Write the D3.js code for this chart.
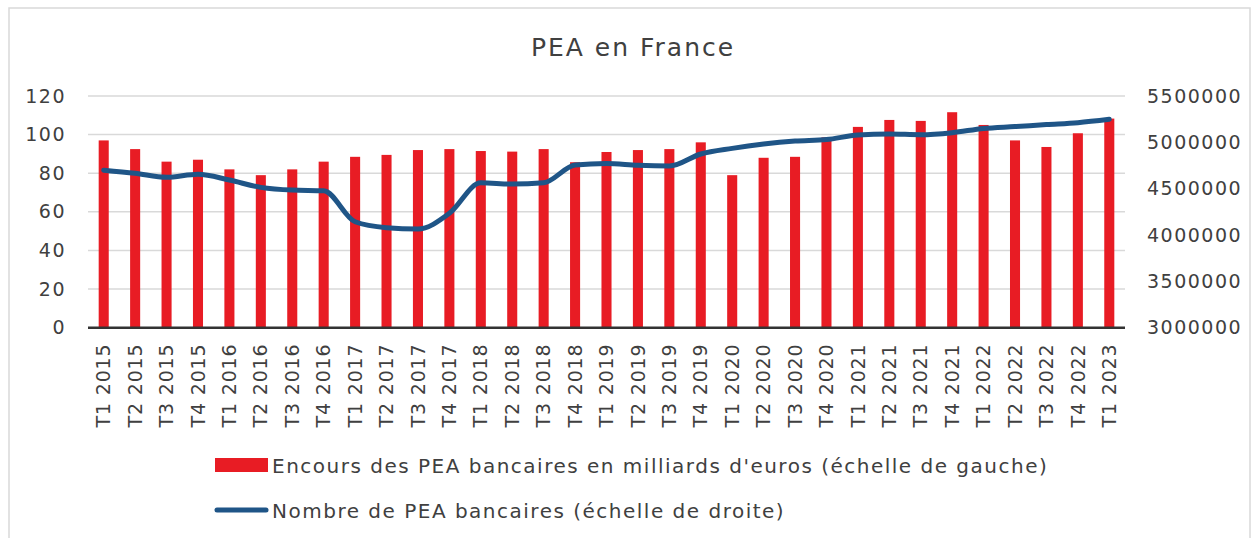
<!DOCTYPE html>
<meta charset="utf-8">
<style>
    body { margin: 0; background: #fff; }
    text { font-family: "Century Gothic", "DejaVu Sans", sans-serif; fill: #404040; letter-spacing: 1.5px; }
    .grid line { stroke: #d9d9d9; stroke-width: 1.5; }
    .axis path, .axis line { display: none; }
</style>
<svg width="1257" height="538"></svg>
<script src="https://d3js.org/d3.v7.min.js"></script>
<script>
    // Data
    var quarters = ["T1 2015","T2 2015","T3 2015","T4 2015","T1 2016","T2 2016","T3 2016","T4 2016",
        "T1 2017","T2 2017","T3 2017","T4 2017","T1 2018","T2 2018","T3 2018","T4 2018",
        "T1 2019","T2 2019","T3 2019","T4 2019","T1 2020","T2 2020","T3 2020","T4 2020",
        "T1 2021","T2 2021","T3 2021","T4 2021","T1 2022","T2 2022","T3 2022","T4 2022","T1 2023"];
    var encours = [97, 92.5, 86, 87, 82, 79, 82, 86, 88.5, 89.5, 92, 92.5, 91.5, 91.2, 92.5, 85.7,
        91, 92, 92.5, 96, 79, 88, 88.5, 98.6, 104, 107.6, 107.1, 111.6, 105, 97, 93.6, 100.7, 108.3];
    var nombre = [4700000, 4666000, 4622000, 4655000, 4593000, 4514000, 4485000, 4478000,
        4143000, 4079000, 4065000, 4234000, 4564000, 4550000, 4564000, 4755000,
        4773000, 4752000, 4744000, 4874000, 4935000, 4982000, 5014000, 5030000,
        5079000, 5090000, 5082000, 5104000, 5150000, 5170000, 5192000, 5212000, 5248000];
    var leftTicks = [0, 20, 40, 60, 80, 100, 120];
    var rightTicks = [3000000, 3500000, 4000000, 4500000, 5000000, 5500000];

    var svg = d3.select("svg");

    // outer frame
    svg.append("rect")
        .attr("x", 9).attr("y", 8).attr("width", 1241).attr("height", 545)
        .attr("fill", "none").attr("stroke", "#d9d9d9").attr("stroke-width", 1.5);

    var x0 = 88, x1 = 1125, yTop = 96, yBot = 327.7;

    var x = d3.scaleBand().domain(quarters).range([x0, x1]).paddingInner(0.68).paddingOuter(0.34);
    var yL = d3.scaleLinear().domain([0, 120]).range([yBot, yTop]);
    var yR = d3.scaleLinear().domain([3000000, 5500000]).range([yBot, yTop]);

    // title
    svg.append("text")
        .attr("x", 633).attr("y", 56)
        .attr("text-anchor", "middle")
        .style("font-size", "25px")
        .style("letter-spacing", "2px")
        .text("PEA en France");

    // gridlines
    svg.append("g").attr("class", "grid")
        .selectAll("line").data(leftTicks.slice(1)).enter()
        .append("line")
        .attr("x1", x0).attr("x2", x1)
        .attr("y1", function (d) { return yL(d); })
        .attr("y2", function (d) { return yL(d); });

    // bars
    svg.append("g").selectAll("rect")
        .data(encours).enter()
        .append("rect")
        .attr("x", function (d, i) { return x(quarters[i]); })
        .attr("width", x.bandwidth())
        .attr("y", function (d) { return yL(d); })
        .attr("height", function (d) { return yBot - yL(d); })
        .attr("fill", "#e81c24");

    // baseline
    svg.append("line")
        .attr("x1", x0).attr("x2", x1).attr("y1", yBot).attr("y2", yBot)
        .attr("stroke", "#333").attr("stroke-width", 2.5);

    // line
    var line = d3.line()
        .x(function (d, i) { return x(quarters[i]) + x.bandwidth() / 2; })
        .y(function (d) { return yR(d); })
        .curve(d3.curveMonotoneX);
    svg.append("path")
        .datum(nombre)
        .attr("d", line)
        .attr("fill", "none")
        .attr("stroke", "#1f5587")
        .attr("stroke-width", 5)
        .attr("stroke-linecap", "round")
        .attr("stroke-linejoin", "round");

    // left axis
    svg.append("g").attr("class", "axis")
        .attr("transform", "translate(" + (x0 - 2) + ",0)")
        .call(d3.axisLeft(yL).tickValues(leftTicks).tickSize(0).tickPadding(20))
        .selectAll("text").style("font-size", "19px");

    // right axis
    svg.append("g").attr("class", "axis")
        .attr("transform", "translate(" + (x1 + 4) + ",0)")
        .call(d3.axisRight(yR).tickValues(rightTicks).tickSize(0).tickPadding(18).tickFormat(d3.format("d")))
        .selectAll("text").style("font-size", "19px");

    // bottom axis
    var xa = svg.append("g").attr("class", "axis")
        .attr("transform", "translate(0," + yBot + ")")
        .call(d3.axisBottom(x).tickSize(0));
    xa.selectAll("text")
        .style("font-size", "19px")
        .style("letter-spacing", "0.8px")
        .attr("text-anchor", "end")
        .attr("dy", "0.35em")
        .attr("transform", "translate(0,16) rotate(-90)")
        .attr("x", 0).attr("y", 0);

    // legend
    var lg = svg.append("g");
    lg.append("rect").attr("x", 215).attr("y", 458).attr("width", 53).attr("height", 14).attr("fill", "#e81c24");
    lg.append("text").attr("x", 272).attr("y", 473).style("font-size", "20px")
        .text("Encours des PEA bancaires en milliards d'euros (échelle de gauche)");
    lg.append("line").attr("x1", 217).attr("x2", 266).attr("y1", 510).attr("y2", 510)
        .attr("stroke", "#1f5587").attr("stroke-width", 5).attr("stroke-linecap", "round");
    lg.append("text").attr("x", 272).attr("y", 518).style("font-size", "20px")
        .text("Nombre de PEA bancaires (échelle de droite)");
</script>
